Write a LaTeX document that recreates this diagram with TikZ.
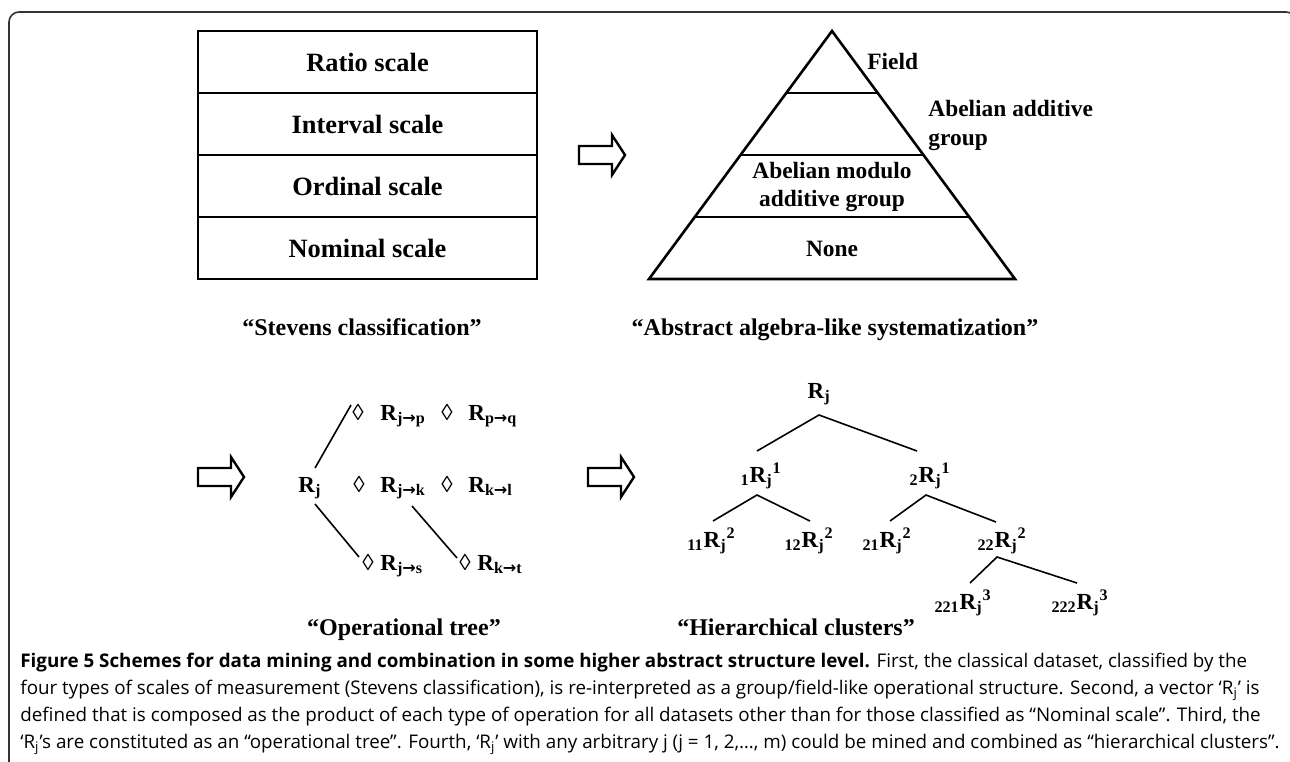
\documentclass[tikz,border=0pt]{standalone}
\usepackage{fontspec}
\setmainfont{Liberation Serif}
\newfontfamily\capfont{Open Sans}
\newfontfamily\arrowfont{DejaVu Sans}
\newcommand{\sarr}{{\arrowfont\bfseries →}}
\begin{document}
\begin{tikzpicture}[x=0.5pt, y=-0.5pt, line join=miter,
  tbl/.style={line width=1.3pt},
  lbl/.style={font=\fontsize{13.2pt}{15pt}\selectfont\bfseries, inner sep=0},
  tri/.style={font=\fontsize{11.7pt}{14.5pt}\selectfont\bfseries, inner sep=0},
  ttl/.style={font=\fontsize{12pt}{14pt}\selectfont\bfseries, inner sep=0, anchor=base},
  rn/.style={font=\fontsize{11.5pt}{13pt}\selectfont\bfseries, inner sep=0, anchor=base},
  dm/.style={font=\fontsize{11.5pt}{13pt}\selectfont, inner sep=0, anchor=base},
  treeline/.style={line width=0.8pt},
  captext/.style={font=\capfont\fontsize{9.4pt}{11pt}\selectfont, inner sep=0, anchor=base west},
  outerframe/.style={line width=0.8pt, draw=black!80, rounded corners=5pt},
  blockarrow/.pic={\draw[line width=1.2pt] (0,-9) -- (33,-9) -- (33,-20) -- (46,0) -- (33,20) -- (33,9) -- (0,9) -- cycle;}
]
\useasboundingbox (0,0) rectangle (1290,761);
% frame
\draw[outerframe] (9,790) -- (9,12) -- (1296,12) -- (1296,790);

% Stevens table
\draw[tbl] (198,31) rectangle (537,279);
\draw[tbl] (198,93) -- (537,93);
\draw[tbl] (198,155) -- (537,155);
\draw[tbl] (198,217) -- (537,217);
\node[lbl] (ratio) at (367.5,62) {Ratio scale};
\node[lbl] (interval) at (367.5,124) {Interval scale};
\node[lbl] (ordinal) at (367.5,186) {Ordinal scale};
\node[lbl] (nominal) at (367.5,248) {Nominal scale};
\node[ttl] (stevens) at (362,335) {“Stevens classification”};

% arrow 1
\pic at (579,155) {blockarrow};

% pyramid
\draw[tbl] (832,31) -- (1015,279) -- (649,279) -- cycle;
\draw[tbl] (786.25,93) -- (877.75,93);
\draw[tbl] (740.5,155) -- (923.5,155);
\draw[tbl] (694.75,217) -- (969.25,217);
\node[tri, anchor=west] (field) at (867,61) {Field};
\node[tri, anchor=north west, align=left] (aag) at (928,100) {Abelian additive\\group};
\node[tri, align=center, font=\fontsize{11.7pt}{14pt}\selectfont\bfseries] (amag) at (832,187) {Abelian modulo\\additive group};
\node[tri] (none) at (832,249) {None};
\node[ttl] (abstract) at (835,335) {“Abstract algebra-like systematization”};

% arrows 2 and 3
\pic at (198,477) {blockarrow};
\pic at (588,477) {blockarrow};

% operational tree
\node[rn, anchor=base west] (o0) at (298,492) {R\textsubscript{j}};
\node[dm] (d1) at (358,420) {◊};
\node[rn, anchor=base west] (o1) at (380,420) {R\textsubscript{j\sarr p}};
\node[dm] (d2) at (447,420) {◊};
\node[rn, anchor=base west] (o2) at (468,420) {R\textsubscript{p\sarr q}};
\node[dm] (d3) at (359,492) {◊};
\node[rn, anchor=base west] (o3) at (380,492) {R\textsubscript{j\sarr k}};
\node[dm] (d4) at (447,492) {◊};
\node[rn, anchor=base west] (o4) at (468,492) {R\textsubscript{k\sarr l}};
\node[dm] (d5) at (368,570) {◊};
\node[rn, anchor=base west] (o5) at (380,570) {R\textsubscript{j\sarr s}};
\node[dm] (d6) at (465,570) {◊};
\node[rn, anchor=base west] (o6) at (477,570) {R\textsubscript{k\sarr t}};
\draw[treeline] ([xshift=8.5pt,yshift=12pt]o0.base west) -- ([xshift=-3.5pt,yshift=7.5pt]d1.base);
\draw[treeline] ([xshift=8.5pt,yshift=-6pt]o0.base west) -- ([xshift=-4.5pt,yshift=6.5pt]d5.base);
\draw[treeline] ([xshift=16pt,yshift=-7pt]o3.base west) -- ([xshift=-4pt,yshift=6pt]d6.base);
\node[ttl] (optree) at (404,635) {“Operational tree”};

% hierarchical clusters
\node[rn] (h0) at (816,398) {R\rlap{\textsubscript{j}}};
\node[rn] (h1) at (758,482) {\llap{\textsubscript{1}}R\rlap{\textsubscript{j}\textsuperscript{1}}};
\node[rn] (h2) at (927,482) {\llap{\textsubscript{2}}R\rlap{\textsubscript{j}\textsuperscript{1}}};
\node[rn] (h11) at (712,547) {\llap{\textsubscript{11}}R\rlap{\textsubscript{j}\textsuperscript{2}}};
\node[rn] (h12) at (810,547) {\llap{\textsubscript{12}}R\rlap{\textsubscript{j}\textsuperscript{2}}};
\node[rn] (h21) at (888,547) {\llap{\textsubscript{21}}R\rlap{\textsubscript{j}\textsuperscript{2}}};
\node[rn] (h22) at (1003,547) {\llap{\textsubscript{22}}R\rlap{\textsubscript{j}\textsuperscript{2}}};
\node[rn] (h221) at (968,609) {\llap{\textsubscript{221}}R\rlap{\textsubscript{j}\textsuperscript{3}}};
\node[rn] (h222) at (1085,609) {\llap{\textsubscript{222}}R\rlap{\textsubscript{j}\textsuperscript{3}}};
\draw[treeline] ([xshift=-0.5pt,yshift=15.5pt]h1.base) -- ([xshift=1.5pt,yshift=-8.5pt]h0.base) -- ([xshift=-5pt,yshift=15.5pt]h2.base);
\draw[treeline] ([xshift=0.5pt,yshift=13pt]h11.base) -- ([xshift=-0.5pt,yshift=-6.5pt]h1.base) -- ([yshift=13pt]h12.base);
\draw[treeline] ([xshift=1pt,yshift=13pt]h21.base) -- ([xshift=-0.5pt,yshift=-6.5pt]h2.base) -- ([xshift=-3.5pt,yshift=12.5pt]h22.base);
\draw[treeline] ([xshift=1pt,yshift=13pt]h221.base) -- ([xshift=-3pt,yshift=-5pt]h22.base) -- ([xshift=-4pt,yshift=13pt]h222.base);
\node[ttl] (hier) at (796,635) {“Hierarchical clusters”};

% caption
\node[captext] (c1) at (20,667) {{\bfseries Figure 5 Schemes for data mining and combination in some higher abstract structure level.} First, the classical dataset, classified by the};
\node[captext] (c2) at (20,694) {four types of scales of measurement (Stevens classification), is re-interpreted as a group/field-like operational structure. Second, a vector ‘R\textsubscript{j}’ is};
\node[captext] (c3) at (20,721) {defined that is composed as the product of each type of operation for all datasets other than for those classified as “Nominal scale”. Third, the};
\node[captext] (c4) at (20,748) {‘R\textsubscript{j}’s are constituted as an “operational tree”. Fourth, ‘R\textsubscript{j}’ with any arbitrary j (j = 1, 2,…, m) could be mined and combined as “hierarchical clusters”.};
\end{tikzpicture}
\end{document}
